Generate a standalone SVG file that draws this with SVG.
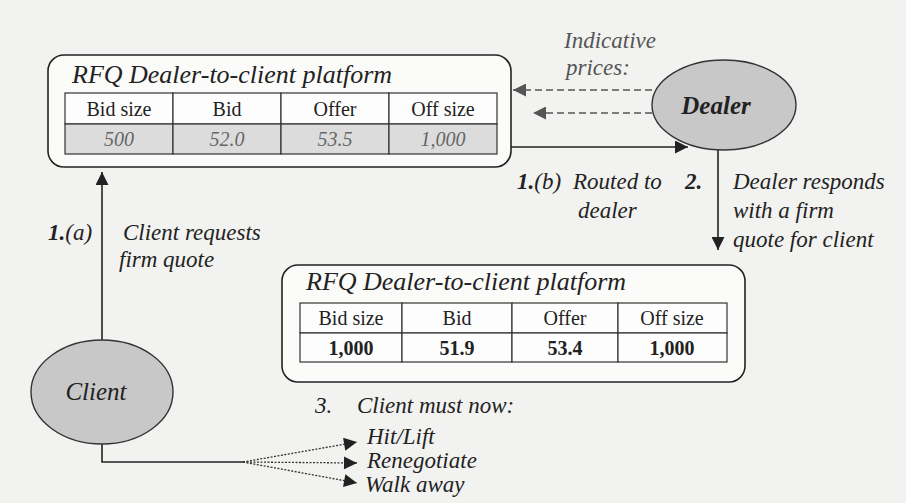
<svg xmlns="http://www.w3.org/2000/svg" width="906" height="503" viewBox="0 0 906 503">
  <style>
    .lbl { font-family: "Liberation Serif", serif; font-style: italic; font-size: 23px; fill: #222; }
    .num { font-family: "Liberation Serif", serif; font-weight: bold; font-style: italic; font-size: 23px; fill: #222; }
    .hint { font-family: "Liberation Serif", serif; font-style: italic; font-size: 23px; fill: #555; }
    .title { font-family: "Liberation Serif", serif; font-style: italic; font-size: 26px; fill: #222; }
    .th { font-family: "Liberation Serif", serif; font-size: 20px; fill: #222; text-anchor: middle; }
    .tdi { font-family: "Liberation Serif", serif; font-style: italic; font-size: 20px; fill: #666; text-anchor: middle; }
    .tdb { font-family: "Liberation Serif", serif; font-weight: bold; font-size: 20px; fill: #222; text-anchor: middle; }
    .panel { fill: #fbfbfa; stroke: #222; stroke-width: 1.6; }
    .cell { fill: #fdfdfd; stroke: #333; stroke-width: 1.2; }
    .cellg { fill: #dcdcdc; stroke: #333; stroke-width: 1.2; }
    .party { fill: #c8c8c8; stroke: #333; stroke-width: 1.4; }
    .partytxt { font-family: "Liberation Serif", serif; font-style: italic; font-size: 25px; fill: #222; text-anchor: middle; }
    .solid { fill: none; stroke: #222; stroke-width: 1.6; }
    .dash { fill: none; stroke: #555; stroke-width: 1.6; stroke-dasharray: 7 4; }
    .dot { fill: none; stroke: #333; stroke-width: 1.3; stroke-dasharray: 2 1.5; }
  </style>
  <defs>
    <marker id="ahl" viewBox="0 0 10 10" refX="10" refY="5" markerWidth="15" markerHeight="13" markerUnits="userSpaceOnUse" orient="auto">
      <path d="M0,0 L10,5 L0,10 Z" fill="#222"/>
    </marker>
    <marker id="ahg" viewBox="0 0 10 10" refX="10" refY="5" markerWidth="15" markerHeight="13" markerUnits="userSpaceOnUse" orient="auto">
      <path d="M0,0 L10,5 L0,10 Z" fill="#555"/>
    </marker>
  </defs>

  <!-- paper -->
  <rect x="0" y="0" width="906" height="503" fill="#f2f2f0"/>

  <!-- connectors -->
  <g id="connectors">
    <path class="dash" d="M652,90 L513,90" marker-end="url(#ahg)"/>
    <path class="dash" d="M652,113 L533,113" marker-end="url(#ahg)"/>
    <path class="solid" d="M511,147 L688,147" marker-end="url(#ahl)"/>
    <path class="solid" d="M718,150 L718,250" marker-end="url(#ahl)"/>
    <path class="solid" d="M102,340 L102,172" marker-end="url(#ahl)"/>
    <path class="solid" d="M102,444 L102,462 L243,462"/>
    <path class="dot" d="M243,462 L357,442" marker-end="url(#ahl)"/>
    <path class="dot" d="M243,462 L357,463" marker-end="url(#ahl)"/>
    <path class="dot" d="M243,462 L357,483" marker-end="url(#ahl)"/>
  </g>

  <!-- indicative quotes platform -->
  <g id="platform-indicative">
    <rect class="panel" x="48" y="55" width="463" height="112" rx="16"/>
    <text class="title" x="72" y="83">RFQ Dealer-to-client platform</text>
    <rect class="cell" x="65" y="93" width="108" height="31"/>
    <rect class="cell" x="173" y="93" width="108" height="31"/>
    <rect class="cell" x="281" y="93" width="108" height="31"/>
    <rect class="cell" x="389" y="93" width="108" height="31"/>
    <rect class="cellg" x="65" y="124" width="108" height="30"/>
    <rect class="cellg" x="173" y="124" width="108" height="30"/>
    <rect class="cellg" x="281" y="124" width="108" height="30"/>
    <rect class="cellg" x="389" y="124" width="108" height="30"/>
    <text class="th" x="119" y="116">Bid size</text>
    <text class="th" x="227" y="116">Bid</text>
    <text class="th" x="335" y="116">Offer</text>
    <text class="th" x="443" y="116">Off size</text>
    <text class="tdi" x="119" y="146">500</text>
    <text class="tdi" x="227" y="146">52.0</text>
    <text class="tdi" x="335" y="146">53.5</text>
    <text class="tdi" x="443" y="146">1,000</text>
  </g>

  <!-- firm quote platform -->
  <g id="platform-firm">
    <rect class="panel" x="282" y="265" width="463" height="117" rx="16"/>
    <text class="title" x="306" y="290">RFQ Dealer-to-client platform</text>
    <rect class="cell" x="300" y="303" width="102" height="30"/>
    <rect class="cell" x="402" y="303" width="110" height="30"/>
    <rect class="cell" x="512" y="303" width="106" height="30"/>
    <rect class="cell" x="618" y="303" width="109" height="30"/>
    <rect class="cell" x="300" y="333" width="102" height="29"/>
    <rect class="cell" x="402" y="333" width="110" height="29"/>
    <rect class="cell" x="512" y="333" width="106" height="29"/>
    <rect class="cell" x="618" y="333" width="109" height="29"/>
    <text class="th" x="351" y="325">Bid size</text>
    <text class="th" x="457" y="325">Bid</text>
    <text class="th" x="565" y="325">Offer</text>
    <text class="th" x="672" y="325">Off size</text>
    <text class="tdb" x="351" y="355">1,000</text>
    <text class="tdb" x="457" y="355">51.9</text>
    <text class="tdb" x="565" y="355">53.4</text>
    <text class="tdb" x="672" y="355">1,000</text>
  </g>

  <!-- dealer -->
  <g id="dealer">
    <ellipse class="party" cx="724" cy="105" rx="72" ry="45"/>
    <text class="partytxt" x="716" y="114" font-weight="bold">Dealer</text>
  </g>

  <!-- client -->
  <g id="client">
    <ellipse class="party" cx="102" cy="392" rx="71" ry="52"/>
    <text class="partytxt" x="96" y="400">Client</text>
  </g>

  <!-- step labels -->
  <g id="labels">
    <text class="hint" x="564" y="48">Indicative</text>
    <text class="hint" x="566" y="75">prices:</text>

    <text class="lbl" x="517" y="189"><tspan class="num">1.</tspan>(b)</text>
    <text class="lbl" x="573" y="189">Routed to</text>
    <text class="lbl" x="578" y="218">dealer</text>

    <text class="num" x="685" y="189">2.</text>
    <text class="lbl" x="733" y="189">Dealer responds</text>
    <text class="lbl" x="733" y="218">with a firm</text>
    <text class="lbl" x="733" y="247">quote for client</text>

    <text class="lbl" x="48" y="240"><tspan class="num">1.</tspan>(a)</text>
    <text class="lbl" x="123" y="240">Client requests</text>
    <text class="lbl" x="119" y="267">firm quote</text>

    <text class="lbl" x="315" y="413">3.</text>
    <text class="lbl" x="357" y="413">Client must now:</text>
    <text class="lbl" x="367" y="444">Hit/Lift</text>
    <text class="lbl" x="367" y="468">Renegotiate</text>
    <text class="lbl" x="365" y="492">Walk away</text>
  </g>
</svg>
